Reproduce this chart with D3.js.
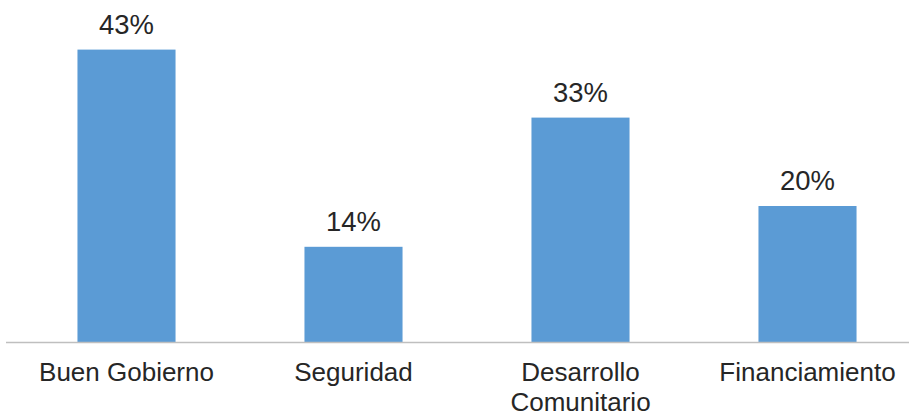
<!DOCTYPE html>
<html>
<head>
<meta charset="utf-8">
<script src="https://cdn.jsdelivr.net/npm/d3@7"></script>
<style>
  html, body { margin: 0; padding: 0; background: #fff; }
  svg { display: block; }
</style>
</head>
<body>
<svg id="chart" width="909" height="416"></svg>
<script>
const categories = ["Buen Gobierno", "Seguridad", "Desarrollo Comunitario", "Financiamiento"];
const categoryLines = [["Buen Gobierno"], ["Seguridad"], ["Desarrollo", "Comunitario"], ["Financiamiento"]];
const values = [43, 14, 33, 20];
const valueLabels = ["43%", "14%", "33%", "20%"];

const svg = d3.select("#chart");
const W = 909, H = 416;
const baseY = 342;

const x = d3.scaleBand()
  .domain(categories)
  .range([13, 921])
  .paddingInner(0.568)
  .paddingOuter(0.284);

const y = d3.scaleLinear().domain([0, 50]).range([baseY, 2]);

const data = categories.map((c, i) => ({ c, v: values[i], label: valueLabels[i], lines: categoryLines[i] }));
const cx = d => x(d.c) + x.bandwidth() / 2;

svg.append("g").selectAll("rect")
  .data(data)
  .join("rect")
  .attr("x", d => x(d.c))
  .attr("y", d => y(d.v))
  .attr("width", x.bandwidth())
  .attr("height", d => baseY - y(d.v))
  .attr("fill", "#5b9bd5");

// baseline axis
svg.append("line")
  .attr("x1", 6).attr("x2", W)
  .attr("y1", baseY + 0.5).attr("y2", baseY + 0.5)
  .attr("stroke", "#bfbfbf")
  .attr("stroke-width", 1.5);

// value labels
svg.append("g").selectAll("text")
  .data(data)
  .join("text")
  .attr("transform", d => `translate(${cx(d)},${y(d.v) - 16}) scale(0.98,1)`)
  .attr("text-anchor", "middle")
  .attr("font-family", "Liberation Sans, Arial, sans-serif")
  .attr("font-size", 28)
  .attr("fill", "#262626")
  .text(d => d.label);

// category labels
const cat = svg.append("g").selectAll("text")
  .data(data)
  .join("text")
  .attr("transform", d => `translate(${cx(d)},381)`)
  .attr("text-anchor", "middle")
  .attr("font-family", "Liberation Sans, Arial, sans-serif")
  .attr("font-size", 26)
  .attr("fill", "#262626");

cat.selectAll("tspan")
  .data(d => d.lines)
  .join("tspan")
  .attr("x", 0)
  .attr("dy", (t, i) => i === 0 ? 0 : 29.8)
  .text(t => t);
</script>
</body>
</html>
